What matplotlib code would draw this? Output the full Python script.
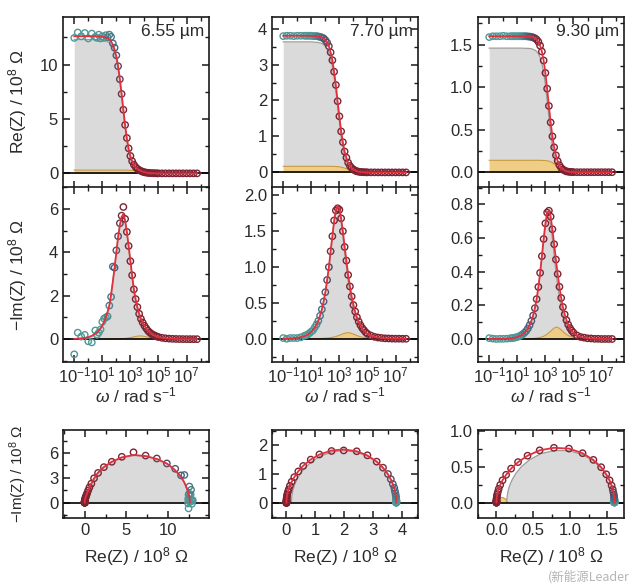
import numpy as np
import matplotlib
matplotlib.use("Agg")
import matplotlib.pyplot as plt
from matplotlib.ticker import FixedLocator, MultipleLocator, NullFormatter, FormatStrFormatter
from matplotlib.colors import LinearSegmentedColormap

plt.rcParams['font.family'] = ['Liberation Sans', 'DejaVu Sans']
plt.rcParams['mathtext.fontset'] = 'custom'
plt.rcParams['mathtext.rm'] = 'Liberation Sans'
plt.rcParams['mathtext.it'] = 'Liberation Sans:italic'
plt.rcParams['mathtext.bf'] = 'Liberation Sans:bold'

# ---------------- data ----------------
log_omega = [-1.0, -0.75, -0.5, -0.25, 0.0, 0.25, 0.5, 0.625, 0.75, 0.875,
             1.0, 1.125, 1.25, 1.375, 1.5, 1.625, 1.75, 1.875, 2.0, 2.125,
             2.25, 2.375, 2.5, 2.625, 2.75, 2.875, 3.0, 3.125, 3.25, 3.375,
             3.5, 3.625, 3.75, 3.875, 4.0, 4.125, 4.25, 4.375, 4.5, 4.625,
             4.75, 4.875, 5.0, 5.25, 5.5, 5.75, 6.0, 6.25, 6.5, 6.75,
             7.0, 7.25, 7.5, 7.75]

thickness_labels = ['6.55 µm', '7.70 µm', '9.30 µm']

# ---- 6.55 um ----
re_data_1 = [12.45, 12.95, 12.60, 12.90, 12.40, 12.85, 12.55, 12.45, 12.75, 12.40,
             12.60, 12.45, 12.70, 12.50, 12.75, 12.55, 11.95, 11.55, 10.85, 9.85,
             8.65, 7.30, 5.85, 4.45, 3.25, 2.30, 1.60, 1.12, 0.80, 0.57,
             0.42, 0.30, 0.22, 0.15, 0.10, 0.07, 0.05, 0.03, 0.02, 0.01,
             0.01, 0.0, 0.0, 0.0, 0.0, 0.0, 0.0, 0.0, 0.0, 0.0,
             0.0, 0.0, 0.0, 0.0]
im_data_1 = [-0.70, 0.30, 0.12, 0.20, -0.10, -0.15, 0.40, 0.20, 0.30, 0.45,
             0.80, 0.95, 1.00, 1.05, 1.55, 1.95, 3.35, 3.30, 4.10, 4.75,
             5.35, 5.70, 6.10, 5.55, 4.95, 4.30, 3.60, 2.95, 2.30, 1.85,
             1.48, 1.17, 0.94, 0.77, 0.62, 0.50, 0.39, 0.31, 0.25, 0.20,
             0.16, 0.125, 0.10, 0.062, 0.039, 0.025, 0.016, 0.010, 0.006, 0.004,
             0.002, 0.001, 0.001, 0.0]
gray_re_1 = [12.30, 12.30, 12.30, 12.30, 12.30, 12.30, 12.30, 12.29, 12.28, 12.27,
             12.25, 12.23, 12.18, 12.11, 12.00, 11.82, 11.53, 11.09, 10.46, 9.58,
             8.41, 7.04, 5.56, 4.15, 2.94, 1.99, 1.30, 0.85, 0.53, 0.34,
             0.21, 0.13, 0.08, 0.05, 0.03, 0.02, 0.01, 0.01, 0.0, 0.0,
             0.0, 0.0, 0.0, 0.0, 0.0, 0.0, 0.0, 0.0, 0.0, 0.0,
             0.0, 0.0, 0.0, 0.0]
gray_im_1 = [0.013, 0.02, 0.035, 0.055, 0.09, 0.15, 0.25, 0.31, 0.40, 0.50,
             0.63, 0.80, 1.00, 1.25, 1.55, 2.05, 2.65, 3.30, 4.00, 4.70,
             5.25, 5.62, 5.74, 5.45, 4.90, 4.25, 3.55, 2.85, 2.20, 1.72,
             1.35, 1.03, 0.80, 0.63, 0.50, 0.39, 0.30, 0.24, 0.19, 0.15,
             0.12, 0.095, 0.075, 0.047, 0.030, 0.019, 0.012, 0.008, 0.005, 0.003,
             0.002, 0.001, 0.001, 0.0]
yel_re_1 = [0.30, 0.30, 0.30, 0.30, 0.30, 0.30, 0.30, 0.30, 0.30, 0.30,
            0.30, 0.30, 0.30, 0.30, 0.30, 0.30, 0.30, 0.30, 0.30, 0.299,
            0.298, 0.297, 0.297, 0.295, 0.293, 0.288, 0.281, 0.270, 0.256, 0.233,
            0.206, 0.172, 0.136, 0.104, 0.072, 0.050, 0.032, 0.021, 0.013, 0.008,
            0.005, 0.003, 0.002, 0.001, 0.0, 0.0, 0.0, 0.0, 0.0, 0.0,
            0.0, 0.0, 0.0, 0.0]
yel_im_1 = [0.0, 0.0, 0.0, 0.001, 0.001, 0.001, 0.001, 0.001, 0.001, 0.002,
            0.002, 0.002, 0.003, 0.003, 0.004, 0.005, 0.007, 0.009, 0.011, 0.014,
            0.018, 0.023, 0.029, 0.037, 0.047, 0.058, 0.072, 0.089, 0.107, 0.124,
            0.139, 0.147, 0.149, 0.142, 0.128, 0.111, 0.093, 0.076, 0.061, 0.049,
            0.039, 0.030, 0.024, 0.015, 0.009, 0.006, 0.004, 0.002, 0.001, 0.001,
            0.0, 0.0, 0.0, 0.0]

# ---- 7.70 um ----
re_data_2 = [3.79, 3.80, 3.80, 3.79, 3.80, 3.80, 3.80, 3.80, 3.80, 3.80,
             3.80, 3.79, 3.79, 3.79, 3.78, 3.77, 3.75, 3.73, 3.68, 3.61,
             3.51, 3.34, 3.12, 2.80, 2.43, 1.98, 1.56, 1.14, 0.84, 0.58,
             0.41, 0.27, 0.18, 0.12, 0.08, 0.05, 0.03, 0.02, 0.012, 0.008,
             0.005, 0.003, 0.002, 0.001, 0.001, 0.0, 0.0, 0.0, 0.0, 0.0,
             0.0, 0.0, 0.0, 0.0]
im_data_2 = [0.01, 0.0, 0.01, 0.01, 0.01, 0.02, 0.04, 0.05, 0.06, 0.08,
             0.10, 0.12, 0.16, 0.20, 0.25, 0.32, 0.41, 0.52, 0.65, 0.82,
             1.00, 1.22, 1.43, 1.65, 1.79, 1.82, 1.80, 1.68, 1.50, 1.28,
             1.09, 0.89, 0.73, 0.59, 0.47, 0.38, 0.30, 0.24, 0.19, 0.15,
             0.12, 0.09, 0.07, 0.045, 0.027, 0.017, 0.011, 0.006, 0.004, 0.002,
             0.001, 0.001, 0.0, 0.0]
gray_re_2 = [3.63, 3.63, 3.63, 3.63, 3.63, 3.63, 3.63, 3.63, 3.63, 3.63,
             3.63, 3.626, 3.62, 3.62, 3.61, 3.60, 3.585, 3.556, 3.51, 3.44,
             3.34, 3.17, 2.955, 2.63, 2.265, 1.815, 1.405, 1.00, 0.704, 0.457,
             0.305, 0.189, 0.123, 0.074, 0.046, 0.029, 0.018, 0.011, 0.007, 0.005,
             0.003, 0.002, 0.001, 0.0, 0.0, 0.0, 0.0, 0.0, 0.0, 0.0,
             0.0, 0.0, 0.0, 0.0]
gray_im_2 = [0.002, 0.003, 0.005, 0.008, 0.014, 0.022, 0.036, 0.047, 0.059, 0.076,
             0.095, 0.123, 0.155, 0.199, 0.250, 0.321, 0.402, 0.514, 0.639, 0.806,
             0.984, 1.206, 1.412, 1.621, 1.760, 1.815, 1.768, 1.621, 1.434, 1.206,
             1.006, 0.806, 0.654, 0.514, 0.410, 0.321, 0.256, 0.199, 0.159, 0.123,
             0.098, 0.076, 0.060, 0.037, 0.023, 0.014, 0.009, 0.005, 0.003, 0.002,
             0.001, 0.001, 0.0, 0.0]
yel_re_2 = [0.170, 0.170, 0.170, 0.170, 0.170, 0.170, 0.170, 0.170, 0.170, 0.170,
            0.170, 0.170, 0.170, 0.170, 0.170, 0.170, 0.170, 0.170, 0.170, 0.169,
            0.169, 0.168, 0.168, 0.166, 0.164, 0.160, 0.155, 0.146, 0.135, 0.119,
            0.101, 0.082, 0.061, 0.044, 0.030, 0.020, 0.013, 0.008, 0.005, 0.003,
            0.002, 0.001, 0.001, 0.0, 0.0, 0.0, 0.0, 0.0, 0.0, 0.0,
            0.0, 0.0, 0.0, 0.0]
yel_im_2 = [0.0, 0.0, 0.0, 0.0, 0.0, 0.0, 0.0, 0.0, 0.001, 0.001,
            0.001, 0.001, 0.002, 0.002, 0.003, 0.004, 0.005, 0.006, 0.008, 0.010,
            0.012, 0.016, 0.020, 0.025, 0.032, 0.040, 0.049, 0.059, 0.069, 0.077,
            0.083, 0.084, 0.082, 0.074, 0.065, 0.055, 0.045, 0.036, 0.029, 0.023,
            0.018, 0.014, 0.011, 0.007, 0.004, 0.003, 0.002, 0.001, 0.001, 0.0,
            0.0, 0.0, 0.0, 0.0]

# ---- 9.30 um ----
re_data_3 = [1.59, 1.60, 1.60, 1.60, 1.605, 1.60, 1.60, 1.60, 1.60, 1.60,
             1.60, 1.60, 1.60, 1.60, 1.60, 1.60, 1.597, 1.596, 1.592, 1.586,
             1.577, 1.562, 1.535, 1.489, 1.42, 1.315, 1.168, 0.983, 0.78, 0.586,
             0.422, 0.293, 0.199, 0.131, 0.083, 0.051, 0.031, 0.019, 0.010, 0.006,
             0.004, 0.002, 0.001, 0.0, 0.0, 0.0, 0.0, 0.0, 0.0, 0.0,
             0.0, 0.0, 0.0, 0.0]
im_data_3 = [0.005, 0.002, 0.0, 0.001, 0.001, 0.002, 0.004, 0.005, 0.007, 0.009,
             0.012, 0.016, 0.021, 0.028, 0.036, 0.047, 0.062, 0.082, 0.107, 0.139,
             0.183, 0.237, 0.309, 0.393, 0.492, 0.594, 0.687, 0.751, 0.762, 0.727,
             0.652, 0.563, 0.472, 0.386, 0.310, 0.244, 0.190, 0.146, 0.112, 0.085,
             0.065, 0.049, 0.037, 0.021, 0.012, 0.008, 0.004, 0.003, 0.001, 0.001,
             0.0, 0.0, 0.0, 0.0]
gray_re_3 = [1.46, 1.46, 1.46, 1.46, 1.46, 1.46, 1.46, 1.46, 1.46, 1.46,
             1.46, 1.46, 1.46, 1.459, 1.459, 1.458, 1.457, 1.456, 1.452, 1.446,
             1.437, 1.422, 1.395, 1.350, 1.281, 1.176, 1.031, 0.849, 0.650, 0.464,
             0.310, 0.197, 0.121, 0.073, 0.043, 0.025, 0.015, 0.009, 0.005, 0.003,
             0.002, 0.001, 0.001, 0.0, 0.0, 0.0, 0.0, 0.0, 0.0, 0.0,
             0.0, 0.0, 0.0, 0.0]
gray_im_3 = [0.0, 0.0, 0.0, 0.001, 0.001, 0.002, 0.004, 0.005, 0.007, 0.009,
             0.012, 0.016, 0.021, 0.027, 0.035, 0.046, 0.061, 0.080, 0.105, 0.136,
             0.179, 0.232, 0.302, 0.384, 0.480, 0.578, 0.665, 0.722, 0.725, 0.681,
             0.596, 0.498, 0.402, 0.317, 0.247, 0.190, 0.146, 0.111, 0.085, 0.065,
             0.049, 0.037, 0.028, 0.016, 0.009, 0.006, 0.003, 0.002, 0.001, 0.001,
             0.0, 0.0, 0.0, 0.0]
yel_re_3 = [0.140, 0.140, 0.140, 0.140, 0.140, 0.140, 0.140, 0.140, 0.140, 0.140,
            0.140, 0.140, 0.140, 0.140, 0.140, 0.140, 0.140, 0.140, 0.140, 0.140,
            0.140, 0.140, 0.140, 0.139, 0.139, 0.138, 0.137, 0.134, 0.130, 0.123,
            0.112, 0.097, 0.078, 0.058, 0.040, 0.026, 0.016, 0.009, 0.005, 0.003,
            0.002, 0.001, 0.001, 0.0, 0.0, 0.0, 0.0, 0.0, 0.0, 0.0,
            0.0, 0.0, 0.0, 0.0]
yel_im_3 = [0.0, 0.0, 0.0, 0.0, 0.0, 0.0, 0.0, 0.0, 0.0, 0.0,
            0.0, 0.0, 0.0, 0.0, 0.001, 0.001, 0.001, 0.002, 0.002, 0.003,
            0.004, 0.005, 0.007, 0.009, 0.012, 0.016, 0.022, 0.029, 0.037, 0.046,
            0.056, 0.065, 0.070, 0.069, 0.063, 0.054, 0.044, 0.035, 0.027, 0.020,
            0.016, 0.012, 0.009, 0.005, 0.003, 0.002, 0.001, 0.001, 0.0, 0.0,
            0.0, 0.0, 0.0, 0.0]

panels = [
    dict(re=re_data_1, im=im_data_1, gre=gray_re_1, gim=gray_im_1, yre=yel_re_1, yim=yel_im_1),
    dict(re=re_data_2, im=im_data_2, gre=gray_re_2, gim=gray_im_2, yre=yel_re_2, yim=yel_im_2),
    dict(re=re_data_3, im=im_data_3, gre=gray_re_3, gim=gray_im_3, yre=yel_re_3, yim=yel_im_3),
]

# ---------------- style ----------------
GRAY_FILL = '#dadada'
GRAY_EDGE = '#9c9c9c'
YEL_FILL = '#f0cd85'
YEL_EDGE = '#c99a3c'
RED = '#e0313d'
TXT = '#2a2a2a'
FS = 12          # tick labels
FS_LAB = 12.5    # axis labels rows 1-2
FS_NY = 11       # Nyquist y label

cmap = LinearSegmentedColormap.from_list(
    'eis', [(0.0, '#4f9898'), (0.44, '#4f9898'), (0.58, '#46607c'),
            (0.70, '#7a2433'), (1.0, '#7a2433')])

L = np.array(log_omega)
omega = 10.0 ** L
marker_colors = cmap(np.clip((L + 1.0) / 5.0, 0, 1))

# layout (pixel based)
FW, FH = 640, 587
fig = plt.figure(figsize=(FW / 100, FH / 100), dpi=100)
lefts = [63, 272, 478]
width = 146
rows = [(16.7, 187.5), (187.5, 361.7), (430.0, 518.3)]


def add_ax(col, row):
    x0 = lefts[col]
    top, bot = rows[row]
    return fig.add_axes([x0 / FW, 1 - bot / FH, width / FW, (bot - top) / FH])


def style(ax):
    for s in ax.spines.values():
        s.set_linewidth(1.2)
        s.set_color('#1a1a1a')
    ax.tick_params(which='both', direction='in', top=True, right=True,
                   labelsize=FS, labelcolor=TXT, color='#1a1a1a')
    ax.tick_params(which='major', length=5, width=1.1)
    ax.tick_params(which='minor', length=2.8, width=1.0)


re_ylims = [(-1.3, 14.4), (-0.42, 4.33), (-0.18, 1.83)]
re_major = [5, 1, 0.5]
re_fmt = ['%d', '%d', '%.1f']
im_ylims = [(-1.04, 7.0), (-0.32, 2.11), (-0.135, 0.90)]
im_major = [2, 0.5, 0.2]
im_fmt = ['%d', '%.1f', '%.1f']
ny_xlims = [(-2.6, 14.9), (-0.5, 4.55), (-0.25, 1.73)]
ny_ylims = [(-1.9, 8.8), (-0.54, 2.53), (-0.22, 1.01)]
ny_xmajor = [5, 1, 0.5]
ny_ymajor = [3, 1, 0.5]
ny_xfmt = ['%d', '%d', '%.1f']
ny_yfmt = ['%d', '%d', '%.1f']

xmaj = [1e-1, 1e1, 1e3, 1e5, 1e7]
xmin_ticks = [1e0, 1e2, 1e4, 1e6, 1e8]
xlabels = ['$10^{-1}$', '$10^{1}$', '$10^{3}$', '$10^{5}$', '$10^{7}$']

MS = 21
MLW = 1.0

for j, p in enumerate(panels):
    re_d = np.array(p['re']); im_d = np.array(p['im'])
    gre = np.array(p['gre']); gim = np.array(p['gim'])
    yre = np.array(p['yre']); yim = np.array(p['yim'])
    fit_re = gre + yre
    fit_im = gim + yim

    # ---- Re(Z) vs omega ----
    ax = add_ax(j, 0)
    ax.set_xscale('log')
    ax.fill_between(omega, 0, gre, color=GRAY_FILL, lw=0, zorder=1)
    ax.plot(omega, gre, color=GRAY_EDGE, lw=0.9, zorder=1.5)
    ax.fill_between(omega, 0, yre, color=YEL_FILL, lw=0, zorder=2)
    ax.plot(omega, yre, color=YEL_EDGE, lw=0.8, zorder=2.1)
    ax.axhline(0, color='black', lw=1.2, zorder=2.5)
    ax.scatter(omega, re_d, s=MS, facecolors='none', edgecolors=marker_colors,
               linewidths=MLW, zorder=3)
    ax.plot(omega, fit_re, color=RED, lw=1.3, zorder=4)
    ax.set_xlim(10 ** -1.8, 10 ** 8.6)
    ax.set_ylim(*re_ylims[j])
    ax.xaxis.set_major_locator(FixedLocator(xmaj))
    ax.xaxis.set_minor_locator(FixedLocator(xmin_ticks))
    ax.xaxis.set_major_formatter(NullFormatter())
    ax.xaxis.set_minor_formatter(NullFormatter())
    ax.yaxis.set_major_locator(MultipleLocator(re_major[j]))
    ax.yaxis.set_minor_locator(MultipleLocator(re_major[j] / 2))
    ax.yaxis.set_major_formatter(FormatStrFormatter(re_fmt[j]))
    style(ax)
    ax.text(0.965, 0.955, thickness_labels[j], transform=ax.transAxes,
            ha='right', va='top', fontsize=12.5, color=TXT)
    if j == 0:
        ax.set_ylabel('Re(Z) / 10$^8$ Ω', fontsize=FS_LAB, color=TXT)
        ax.yaxis.set_label_coords(-0.235, 0.5)

    # ---- -Im(Z) vs omega ----
    ax = add_ax(j, 1)
    ax.set_xscale('log')
    ax.fill_between(omega, 0, gim, color=GRAY_FILL, lw=0, zorder=1)
    ax.plot(omega, gim, color=GRAY_EDGE, lw=0.9, zorder=1.5)
    ax.fill_between(omega, 0, yim, color=YEL_FILL, lw=0, zorder=2)
    ax.plot(omega, yim, color=YEL_EDGE, lw=0.8, zorder=2.1)
    ax.axhline(0, color='black', lw=1.2, zorder=2.5)
    ax.scatter(omega, im_d, s=MS, facecolors='none', edgecolors=marker_colors,
               linewidths=MLW, zorder=3)
    ax.plot(omega, fit_im, color=RED, lw=1.3, zorder=4)
    ax.set_xlim(10 ** -1.8, 10 ** 8.6)
    ax.set_ylim(*im_ylims[j])
    ax.xaxis.set_major_locator(FixedLocator(xmaj))
    ax.xaxis.set_minor_locator(FixedLocator(xmin_ticks))
    ax.set_xticklabels(xlabels)
    ax.xaxis.set_minor_formatter(NullFormatter())
    ax.yaxis.set_major_locator(MultipleLocator(im_major[j]))
    ax.yaxis.set_minor_locator(MultipleLocator(im_major[j] / 2))
    ax.yaxis.set_major_formatter(FormatStrFormatter(im_fmt[j]))
    style(ax)
    ax.tick_params(axis='x', which='major', pad=2.5)
    ax.set_xlabel(r'$\omega$ / rad s$^{-1}$', fontsize=FS_LAB, color=TXT, labelpad=0)
    if j == 0:
        ax.set_ylabel('\u2212Im(Z) / 10$^8$ Ω', fontsize=FS_LAB, color=TXT)
        ax.yaxis.set_label_coords(-0.235, 0.5)

    # ---- Nyquist ----
    ax = add_ax(j, 2)
    ax.fill(gre + yre[0], gim, color=GRAY_FILL, lw=0, zorder=1)
    ax.plot(gre + yre[0], gim, color=GRAY_EDGE, lw=0.9, zorder=1.5)
    ax.fill(yre, yim, color=YEL_FILL, lw=0, zorder=2)
    ax.plot(yre, yim, color=YEL_EDGE, lw=0.8, zorder=2.1)
    ax.axhline(0, color='black', lw=1.2, zorder=2.5)
    ax.scatter(re_d, im_d, s=MS, facecolors='none', edgecolors=marker_colors,
               linewidths=MLW, zorder=3)
    ax.plot(fit_re, fit_im, color=RED, lw=1.3, zorder=4)
    ax.set_xlim(*ny_xlims[j])
    ax.set_ylim(*ny_ylims[j])
    ax.xaxis.set_major_locator(MultipleLocator(ny_xmajor[j]))
    ax.xaxis.set_minor_locator(MultipleLocator(ny_xmajor[j] / 2))
    ax.yaxis.set_major_locator(MultipleLocator(ny_ymajor[j]))
    ax.yaxis.set_minor_locator(MultipleLocator(ny_ymajor[j] / 2))
    ax.xaxis.set_major_formatter(FormatStrFormatter(ny_xfmt[j]))
    ax.yaxis.set_major_formatter(FormatStrFormatter(ny_yfmt[j]))
    style(ax)
    ax.set_xlabel('Re(Z) / 10$^8$ Ω', fontsize=FS_LAB, color=TXT, labelpad=5)
    if j == 0:
        ax.set_ylabel('\u2212Im(Z) / 10$^8$ Ω', fontsize=FS_NY, color=TXT)
        ax.yaxis.set_label_coords(-0.235, 0.5)

# watermark (placed just below the last axis label)
fig.text(548 / FW, 1 - 577 / FH, '(新能源Leader', fontsize=9, color='#b5b5b5',
         family=['Noto Sans CJK SC', 'DejaVu Sans'], ha='left', va='center',
         zorder=10)

fig.savefig('out.png', dpi=100)
